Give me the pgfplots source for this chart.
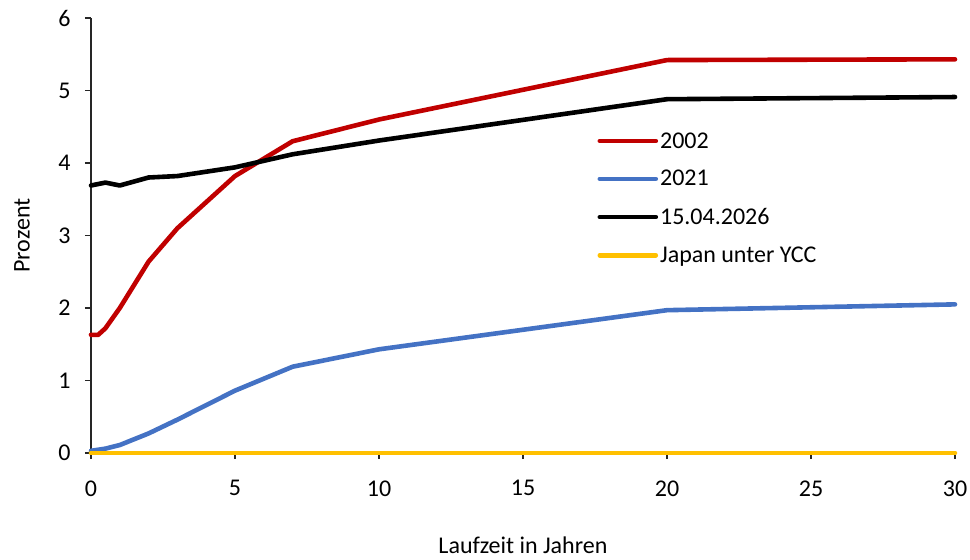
\documentclass[border=0pt]{standalone}
\usepackage{fontspec}
\setmainfont{Carlito}
\usepackage{pgfplots}
\pgfplotsset{compat=1.18}
\definecolor{cred}{HTML}{C00000}
\definecolor{cblue}{HTML}{4472C4}
\definecolor{cyellow}{HTML}{FFC000}
\begin{document}
\begin{tikzpicture}
\useasboundingbox (-91pt,-107pt) rectangle (879pt,453pt);
\begin{axis}[
  at={(0pt,0pt)}, anchor=origin,
  scale only axis, width=864pt, height=435pt,
  xmin=0, xmax=30, ymin=0, ymax=6,
  axis lines*=left,
  axis line style={line width=1.4pt, color=black!85},
  xtick={0,5,...,30}, ytick={0,1,...,6},
  tick align=outside, major tick length=6pt,
  tick style={line width=1.2pt, color=black!85},
  /pgf/number format/assume math mode=true,
  tick label style={font=\fontsize{24}{26}\selectfont},
  xticklabel style={yshift=-18pt},
  yticklabel style={xshift=-11pt},
  xlabel={Laufzeit in Jahren}, ylabel={Prozent},
  label style={font=\fontsize{24}{26}\selectfont},
  xlabel style={at={(axis description cs:0.5,0)}, anchor=center, yshift=-92pt},
  ylabel style={at={(axis description cs:-0.0799,0.5)}, anchor=center},
  clip=false,
  legend style={draw=none, fill=none, at={(0.586,0.742)}, anchor=north west,
    font=\fontsize{24}{26}\selectfont, row sep=16.8pt, inner sep=0pt},
  legend cell align=left,
  legend image code/.code={\draw[#1] (0pt,0pt) -- (56pt,0pt);},
  every axis plot/.append style={line width=4.6pt, line join=round, line cap=round},
]
\addplot[cred] coordinates {(0,1.63) (0.25,1.63) (0.5,1.72) (1,2.0) (2,2.64) (3,3.10) (5,3.82) (7,4.30) (10,4.60) (20,5.42) (30,5.43)};
\addlegendentry{2002}
\addplot[cblue] coordinates {(0,0.03) (0.5,0.06) (1,0.11) (2,0.27) (3,0.46) (5,0.86) (7,1.19) (10,1.43) (20,1.97) (30,2.05)};
\addlegendentry{2021}
\addplot[black] coordinates {(0,3.69) (0.5,3.73) (1,3.69) (2,3.80) (3,3.82) (5,3.94) (7,4.12) (10,4.31) (20,4.88) (30,4.91)};
\addlegendentry{15.04.2026}
\addplot[cyellow] coordinates {(0,0) (0.5,0) (1,0) (2,0) (3,0) (5,0) (7,0) (10,0) (20,0) (30,0)};
\addlegendentry{Japan unter YCC}
\end{axis}
\end{tikzpicture}
\end{document}
